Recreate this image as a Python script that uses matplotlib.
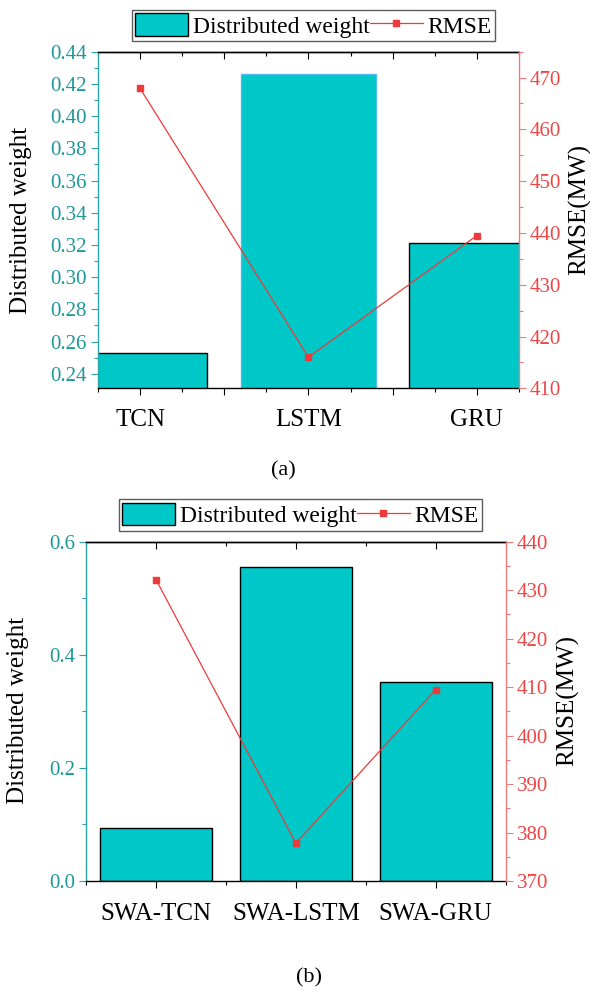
import numpy as np
import matplotlib
matplotlib.use('Agg')
import matplotlib.pyplot as plt
from matplotlib.ticker import MultipleLocator, FuncFormatter, FormatStrFormatter
from matplotlib.patches import Patch
from matplotlib.lines import Line2D

plt.rcParams['font.family'] = ['Liberation Serif', 'DejaVu Serif']

# ---- data ----
models_a = ['TCN', 'LSTM', 'GRU']
weight_a = [0.253, 0.426, 0.321]
rmse_a = [467.9, 416.0, 439.5]

models_b = ['SWA-TCN', 'SWA-LSTM', 'SWA-GRU']
weight_b = [0.094, 0.556, 0.352]
rmse_b = [432.2, 377.8, 409.5]

# ---- styling ----
BAR = '#00C8C8'
TEAL_TXT = '#1A9898'
TEAL_AX = '#2AA5A5'
RED_TXT = '#F04545'
RED_AX = '#F27A7A'
LINE = '#EE3A3A'
MAJ_LEN, MIN_LEN = 5.0, 2.8

W, H = 591, 994
fig = plt.figure(figsize=(W / 100, H / 100), dpi=100)


def px_box(l, t, r, b):
    return [l / W, 1 - b / H, (r - l) / W, (b - t) / H]


def cat_formatter(cats):
    def fmt(v, pos):
        k = int(round(v))
        if abs(v - k) < 1e-6 and 0 <= k < len(cats):
            return cats[k]
        return ''
    return FuncFormatter(fmt)


def panel(box, cats, weights, rmse, ylim_l, ylim_r, xpad, xmaj, xmin,
          ymaj_l, ymin_l, yfmt_l, edgecolors, xpad_pt):
    ax = fig.add_axes(box)
    x = np.arange(len(cats))
    ax.bar(x, weights, width=0.8, color=BAR, edgecolor=edgecolors,
           linewidth=1.0, zorder=2)
    ax.set_xlim(-xpad, len(cats) - 1 + xpad)
    ax.set_ylim(*ylim_l)

    ax.xaxis.set_major_locator(MultipleLocator(xmaj))
    ax.xaxis.set_minor_locator(MultipleLocator(xmin))
    ax.xaxis.set_major_formatter(cat_formatter(cats))
    ax.tick_params(axis='x', which='both', direction='out', color='black',
                   width=0.8, labelsize=18, pad=xpad_pt)
    ax.tick_params(axis='x', which='major', length=MAJ_LEN)
    ax.tick_params(axis='x', which='minor', length=MIN_LEN)

    ax.yaxis.set_major_locator(MultipleLocator(ymaj_l))
    ax.yaxis.set_minor_locator(MultipleLocator(ymin_l))
    ax.yaxis.set_major_formatter(FormatStrFormatter(yfmt_l))
    ax.tick_params(axis='y', which='both', direction='out', colors=TEAL_AX,
                   labelcolor=TEAL_TXT, width=0.8, labelsize=15, pad=3)
    ax.tick_params(axis='y', which='major', length=MAJ_LEN)
    ax.tick_params(axis='y', which='minor', length=MIN_LEN)

    ax.spines['left'].set_color(TEAL_AX)
    ax.spines['right'].set_visible(False)
    for s in ('top', 'bottom'):
        ax.spines[s].set_color('black')
    for s in ax.spines.values():
        s.set_linewidth(1.0)

    # inward ticks along the top edge
    top = ax.secondary_xaxis('top')
    top.xaxis.set_major_locator(MultipleLocator(xmaj))
    top.xaxis.set_minor_locator(MultipleLocator(xmin))
    top.tick_params(axis='x', which='both', direction='in', color='black',
                    width=0.8, labeltop=False)
    top.tick_params(axis='x', which='major', length=MAJ_LEN)
    top.tick_params(axis='x', which='minor', length=MIN_LEN)
    top.spines['top'].set_linewidth(1.0)

    ax2 = ax.twinx()
    ax2.plot(x, rmse, color=LINE, lw=0.9, marker='s', ms=5,
             mfc=LINE, mec=LINE, zorder=3)
    ax2.set_ylim(*ylim_r)
    ax2.yaxis.set_major_locator(MultipleLocator(10))
    ax2.yaxis.set_minor_locator(MultipleLocator(5))
    ax2.yaxis.set_major_formatter(FormatStrFormatter('%d'))
    ax2.tick_params(axis='y', which='both', direction='out', colors=RED_AX,
                    labelcolor=RED_TXT, width=0.8, labelsize=15, pad=3)
    ax2.tick_params(axis='y', which='major', length=MAJ_LEN)
    ax2.tick_params(axis='y', which='minor', length=MIN_LEN)
    for s in ('left', 'top', 'bottom'):
        ax2.spines[s].set_visible(False)
    ax2.spines['right'].set_color(RED_AX)
    ax2.spines['right'].set_linewidth(1.0)
    return ax, ax2


def legend_at(cx, cy):
    handles = [Patch(facecolor=BAR, edgecolor='black', linewidth=1.0),
               Line2D([], [], color=LINE, lw=0.9, marker='s', ms=5,
                      mfc=LINE, mec=LINE)]
    leg = fig.legend(handles, ['Distributed weight', 'RMSE'], loc='center',
                     bbox_to_anchor=(cx / W, 1 - cy / H), ncol=2, fontsize=17,
                     frameon=True, fancybox=False, edgecolor='#333333',
                     handlelength=2.25, handleheight=1.1, handletextpad=0.2,
                     columnspacing=0.0, borderpad=0.15, borderaxespad=0)
    leg.get_frame().set_linewidth(1.0)


# (a) base models
panel(px_box(98, 51.7, 518.9, 388.3), models_a, weight_a, rmse_a,
      (0.231, 0.44), (410, 475), 0.25, 0.5, 0.25, 0.02, 0.01, '%.2f',
      ['black', '#55B8F0', 'black'], 10)
legend_at(313.5, 25.4)
fig.text(21 / W, 1 - 220 / H, 'Distributed weight', rotation=90,
         ha='center', va='center', fontsize=18)
fig.text(580 / W, 1 - 210 / H, 'RMSE(MW)', rotation=90,
         ha='center', va='center', fontsize=18)
fig.text(283 / W, 1 - 471 / H, '(a)', ha='center', va='center', fontsize=16)

# (b) SWA models
panel(px_box(86, 541.7, 505.7, 881), models_b, weight_b, rmse_b,
      (0.0, 0.6), (370, 440), 0.5, 1.0, 0.5, 0.2, 0.1, '%.1f',
      ['black', 'black', 'black'], 11)
legend_at(300.5, 515)
fig.text(18 / W, 1 - 710 / H, 'Distributed weight', rotation=90,
         ha='center', va='center', fontsize=18)
fig.text(568 / W, 1 - 701 / H, 'RMSE(MW)', rotation=90,
         ha='center', va='center', fontsize=18)
fig.text(309 / W, 1 - 978 / H, '(b)', ha='center', va='center', fontsize=16)

fig.savefig('out.png', dpi=100)
